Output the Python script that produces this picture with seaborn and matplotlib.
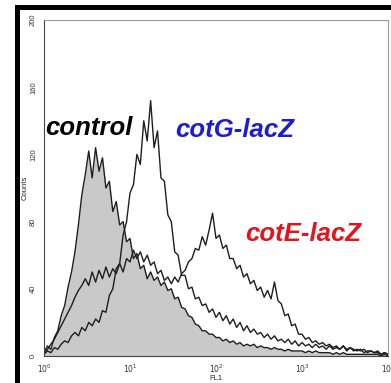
import numpy as np
import pandas as pd
import seaborn as sns
import matplotlib.pyplot as plt
from matplotlib.patches import Rectangle
from matplotlib.ticker import FixedLocator, MultipleLocator, NullFormatter

# FL1 channel positions (log10 of fluorescence), 0.04 decade per channel
log_fl1 = np.linspace(0, 4, 101)

control = [2, 6, 4, 11, 15, 24, 30, 41, 50, 62,
           78, 96, 108, 122, 106, 124, 110, 118, 100, 104,
           86, 92, 78, 80, 68, 70, 58, 61, 52, 54,
           46, 50, 45, 47, 42, 44, 39, 40, 34, 35,
           29, 28, 24, 23, 19, 18, 15, 15, 13, 13,
           11, 11, 9, 10, 8, 9, 7, 8, 6, 7,
           6, 7, 5, 6, 5, 5, 4, 5, 4, 4,
           3, 4, 3, 3, 3, 3, 2, 3, 2, 3,
           2, 2, 2, 2, 1, 2, 1, 2, 1, 1,
           1, 1, 1, 1, 1, 1, 1, 1, 0, 1, 0]

cotG = [1, 3, 2, 5, 4, 7, 9, 8, 12, 14,
        12, 17, 15, 20, 18, 22, 20, 27, 26, 36,
        40, 52, 55, 72, 80, 97, 102, 120, 114, 140,
        128, 152, 124, 134, 106, 104, 84, 80, 62, 60,
        48, 48, 40, 41, 34, 35, 30, 31, 26, 28,
        23, 26, 21, 24, 19, 22, 17, 20, 15, 18,
        14, 16, 13, 14, 11, 13, 10, 12, 9, 10,
        8, 10, 7, 9, 6, 8, 6, 7, 5, 7,
        5, 6, 4, 6, 4, 5, 4, 6, 3, 5,
        4, 3, 4, 2, 3, 3, 2, 3, 1, 2, 1]

cotE = [1, 4, 7, 10, 14, 18, 22, 26, 30, 35,
        39, 42, 46, 42, 50, 44, 51, 46, 53, 47,
        52, 49, 55, 50, 58, 56, 63, 58, 62, 56,
        60, 54, 56, 49, 51, 45, 47, 43, 47, 44,
        49, 51, 56, 58, 64, 63, 71, 66, 75, 85,
        70, 72, 64, 66, 58, 58, 52, 54, 47, 49,
        43, 45, 39, 41, 35, 39, 34, 44, 33, 31,
        24, 25, 18, 19, 13, 13, 10, 11, 8, 9,
        7, 8, 6, 7, 5, 6, 4, 6, 4, 5,
        3, 4, 3, 4, 2, 3, 2, 2, 1, 2, 1]

x_ticks = [1, 10, 100, 1000, 10000]
x_tick_labels = ["$10^0$", "$10^1$", "$10^2$", "$10^3$", "$10^4$"]
y_ticks = [0, 40, 80, 120, 160, 200]

df = pd.DataFrame({"FL1": 10 ** log_fl1, "control": control,
                   "cotG": cotG, "cotE": cotE})

sns.set_style("white")
plt.rcParams["font.family"] = ["Liberation Sans", "DejaVu Sans"]

fig = plt.figure(figsize=(3.91, 3.83), dpi=100)
ax = fig.add_axes([44 / 391, 1 - 356 / 383, 344 / 391, 336 / 383])

# filled control histogram
ax.fill_between(df["FL1"], 0, df["control"], color="#c9c9c9", lw=0)
for col in ["control", "cotE", "cotG"]:
    sns.lineplot(data=df, x="FL1", y=col, ax=ax, color="#1e1e1e", lw=1.0)

ax.set_xscale("log")
ax.set_xlim(1, 10000)
ax.set_ylim(0, 200)
ax.xaxis.set_major_locator(FixedLocator(x_ticks))
ax.set_xticklabels(x_tick_labels)
ax.xaxis.set_minor_locator(FixedLocator(
    [m * 10 ** d for d in range(4) for m in range(2, 10)]))
ax.xaxis.set_minor_formatter(NullFormatter())
ax.set_yticks(y_ticks)
ax.set_yticklabels([str(v) for v in y_ticks], rotation=90, va="center")
ax.yaxis.set_minor_locator(MultipleLocator(8))

ax.tick_params(axis="both", which="both", direction="out", colors="#333333",
               labelsize=5.5, width=0.6)
ax.tick_params(axis="both", which="major", length=3, pad=2)
ax.tick_params(axis="both", which="minor", length=2)
ax.set_xlabel("FL1", fontsize=5.5, labelpad=0)
ax.set_ylabel("Counts", fontsize=5.5, labelpad=1)

for side in ["left", "bottom"]:
    ax.spines[side].set_color("#444444")
    ax.spines[side].set_linewidth(0.8)
for side in ["top", "right"]:
    ax.spines[side].set_color("#999999")
    ax.spines[side].set_linewidth(0.8)

txt = dict(fontsize=18.5, fontweight="bold", fontstyle="italic",
           transform=ax.transAxes, ha="left", va="center")
ax.text(0.003, 0.679, "control", color="black", **txt)
ax.text(0.381, 0.673, "cotG-lacZ", color="#1c1cd6", **txt)
ax.text(0.584, 0.363, "cotE-lacZ", color="#e4141c", **txt)

# black frame along the top and left edges
fig.add_artist(Rectangle((15 / 391, 0), 5 / 391, 1 - 5 / 383,
                         transform=fig.transFigure, color="black", lw=0))
fig.add_artist(Rectangle((15 / 391, 1 - 10 / 383), 1, 5 / 383,
                         transform=fig.transFigure, color="black", lw=0))

fig.savefig("out.png", dpi=100)
